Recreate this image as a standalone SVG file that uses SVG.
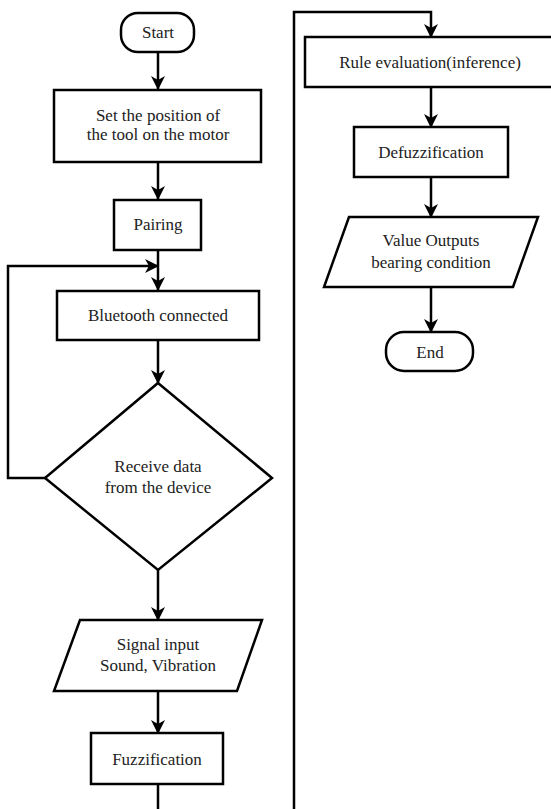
<svg xmlns="http://www.w3.org/2000/svg" width="551" height="809" viewBox="0 0 551 809">
<defs>
<marker id="ah" markerWidth="14" markerHeight="14" viewBox="0 0 14 14" refX="13" refY="7" orient="auto" markerUnits="userSpaceOnUse">
<path d="M0,0 L14,7 L0,14 L4,7 Z" fill="#000"/>
</marker>
<style>
.s{fill:#fff;stroke:#000;stroke-width:2.5}
.c{fill:none;stroke:#000;stroke-width:2.5}
.t{font-family:'Liberation Serif','Times New Roman',serif;font-size:17px;fill:#222;text-anchor:middle}
</style>
</defs>
<rect width="551" height="809" fill="#fff"/>
<g id="connectors">
<path class="c" d="M158,52 V89" marker-end="url(#ah)"/>
<path class="c" d="M158,162 V199" marker-end="url(#ah)"/>
<path class="c" d="M158,250 V290" marker-end="url(#ah)"/>
<path class="c" d="M45,478 H8 V266 H158" marker-end="url(#ah)"/>
<path class="c" d="M158,340 V383" marker-end="url(#ah)"/>
<path class="c" d="M158,570 V620" marker-end="url(#ah)"/>
<path class="c" d="M158,691 V733" marker-end="url(#ah)"/>
<path class="c" d="M158,784 V812"/>
<path class="c" d="M294,812 V12 H431 V37" marker-end="url(#ah)"/>
<path class="c" d="M431,87 V127" marker-end="url(#ah)"/>
<path class="c" d="M431,177 V217" marker-end="url(#ah)"/>
<path class="c" d="M431,287 V332" marker-end="url(#ah)"/>
</g>
<g id="start">
<rect class="s" x="121" y="13" width="73" height="39" rx="17"/>
<text class="t" x="158" y="38">Start</text>
</g>
<g id="set-position">
<rect class="s" x="54" y="90" width="207" height="72"/>
<text class="t" x="158" y="121">Set the position of</text>
<text class="t" x="158" y="140">the tool on the motor</text>
</g>
<g id="pairing">
<rect class="s" x="114" y="200" width="87" height="50"/>
<text class="t" x="158" y="230">Pairing</text>
</g>
<g id="bluetooth">
<rect class="s" x="57" y="291" width="202" height="49"/>
<text class="t" x="158" y="321">Bluetooth connected</text>
</g>
<g id="receive">
<polygon class="s" points="158,383 272,478 158,570 45,478"/>
<text class="t" x="158" y="472">Receive data</text>
<text class="t" x="158" y="493">from the device</text>
</g>
<g id="signal-input">
<polygon class="s" points="80,620 262,620 237,691 54,691"/>
<text class="t" x="158" y="650">Signal input</text>
<text class="t" x="158" y="671">Sound, Vibration</text>
</g>
<g id="fuzzification">
<rect class="s" x="91" y="733" width="132" height="51"/>
<text class="t" x="157" y="765">Fuzzification</text>
</g>
<g id="rule-evaluation">
<rect class="s" x="305" y="37" width="252" height="50"/>
<text class="t" x="430" y="68">Rule evaluation(inference)</text>
</g>
<g id="defuzzification">
<rect class="s" x="354" y="127" width="154" height="50"/>
<text class="t" x="431" y="158">Defuzzification</text>
</g>
<g id="value-outputs">
<polygon class="s" points="349,217 538,217 513,287 324,287"/>
<text class="t" x="431" y="246">Value Outputs</text>
<text class="t" x="431" y="268">bearing condition</text>
</g>
<g id="end">
<rect class="s" x="386" y="332" width="87" height="39" rx="18"/>
<text class="t" x="430" y="358">End</text>
</g>
</svg>
